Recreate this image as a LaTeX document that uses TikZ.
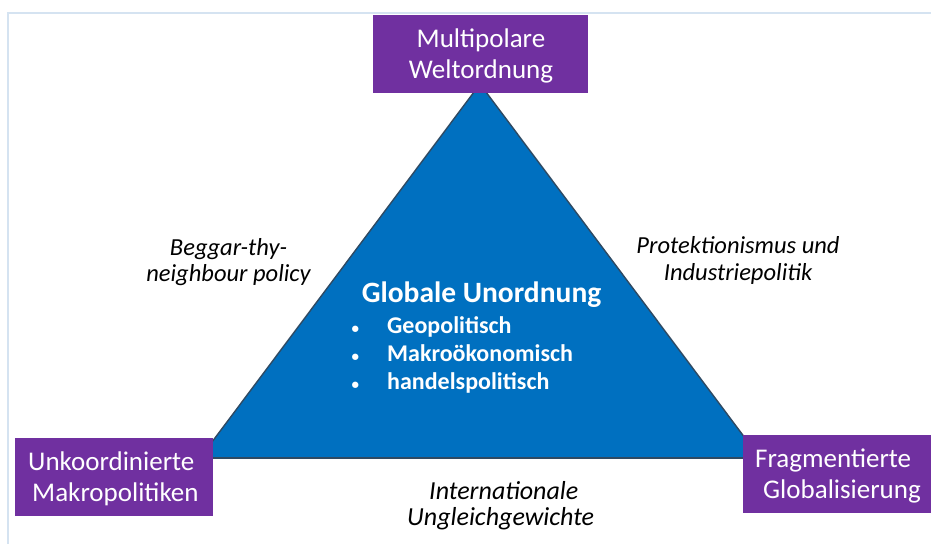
\documentclass[tikz,border=0pt]{standalone}
\usepackage{fontspec}
\setmainfont{Carlito}
\definecolor{triblue}{HTML}{0070C0}
\definecolor{triedge}{HTML}{2F4A63}
\definecolor{boxpurple}{HTML}{7030A0}
\definecolor{frameblue}{HTML}{D5E3F1}
\newcommand{\bulletmark}{\makebox[35.5pt][l]{\fontsize{15}{15}\selectfont\textbullet}}
\tikzset{
  pbox/.style={fill=boxpurple, draw=none, inner sep=0pt, minimum height=78pt},
  boxtext/.style={inner sep=0pt, text=white, font=\fontsize{27}{31}\selectfont},
  sidelabel/.style={inner sep=0pt, text=black, font=\fontsize{24.5}{26}\selectfont\itshape},
  inlabel/.style={inner sep=0pt, text=white}
}
\begin{document}
\begin{tikzpicture}[x=1pt,y=-1pt]
\useasboundingbox (0,0) rectangle (931,544);
% frame
\draw[frameblue, line width=1.5pt] (931,13) -- (8,13) -- (8,544);
% triangle
\coordinate (apex) at (480,84);
\coordinate (bl) at (200,458);
\coordinate (br) at (760,458);
\draw[fill=triblue, draw=triedge, line width=1.4pt, line join=miter] (apex) -- (br) -- (bl) -- cycle;
\draw[triedge, line width=2.4pt] (bl) -- (br);
% boxes
\node[pbox, minimum width=215pt] (top) at (480.2,54) {};
\node[pbox, minimum width=198pt] (left) at (114,477) {};
\node[pbox, minimum width=190pt] (right) at (838,474) {};
\node[boxtext, anchor=base] (toptext) at (481,47.7)
  {\begin{tabular}[t]{@{}c@{}}Multipolare\\Weltordnung\end{tabular}};
\node[boxtext, anchor=base west] (lefttext) at (28,470)
  {\begin{tabular}[t]{@{}l@{}}Unkoordinierte\\\hspace*{4pt}Makropolitiken\end{tabular}};
\node[boxtext, anchor=base west] (righttext) at (755,467)
  {\begin{tabular}[t]{@{}l@{}}Fragmentierte\\\hspace*{8pt}Globalisierung\end{tabular}};
% side labels
\node[sidelabel, anchor=base] (lbl) at (228.5,255)
  {\begin{tabular}[t]{@{}c@{}}Beggar-thy-\\neighbour policy\end{tabular}};
\node[sidelabel, anchor=base, font=\fontsize{24.5}{27}\selectfont\itshape] (lbr) at (738,253)
  {\begin{tabular}[t]{@{}c@{}}Protektionismus und\\Industriepolitik\end{tabular}};
\node[sidelabel, anchor=base west, font=\fontsize{26}{26}\selectfont\itshape] (lbb) at (407,499)
  {\begin{tabular}[t]{@{}l@{}}\hspace*{22pt}Internationale\\Ungleichgewichte\end{tabular}};
% inner text
\node[inlabel, anchor=base, font=\fontsize{29.5}{32}\selectfont\bfseries] (title) at (481.5,302)
  {Globale Unordnung};
\node[inlabel, anchor=base west, font=\fontsize{24}{28}\selectfont\bfseries] (items) at (351.5,333)
  {\begin{tabular}[t]{@{}l@{}}
   \bulletmark Geopolitisch\\
   \bulletmark Makroökonomisch\\
   \bulletmark handelspolitisch
   \end{tabular}};
\end{tikzpicture}
\end{document}
